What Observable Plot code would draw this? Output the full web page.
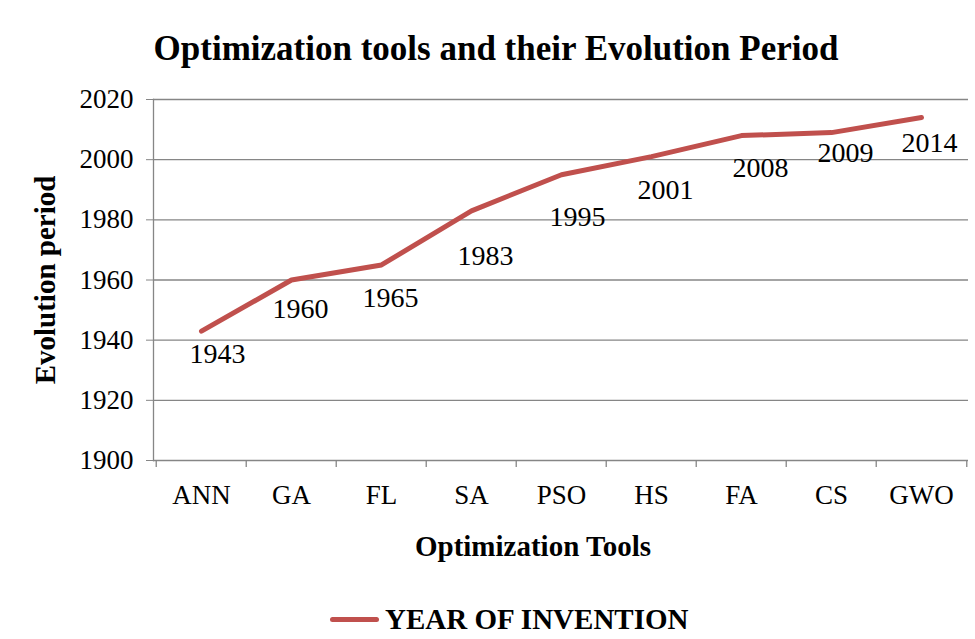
<!DOCTYPE html>
<html><head><meta charset="utf-8">
<script src="https://cdn.jsdelivr.net/npm/d3@7"></script>
<script src="https://cdn.jsdelivr.net/npm/@observablehq/plot@0.6"></script>
<style>
body{margin:0;background:#fff;font-family:"Liberation Serif",serif;}
#wrap{position:relative;width:975px;height:639px;overflow:hidden;}
#title{position:absolute;top:29px;left:0;width:992px;text-align:center;font-weight:bold;font-size:35px;line-height:40px;color:#000;}
#chart{position:absolute;top:80px;left:0;}
#legend{position:absolute;top:600px;left:330px;height:38px;display:flex;align-items:center;font-weight:bold;font-size:29px;}
#legend .sw{display:inline-block;width:49px;height:5px;border-radius:3px;background:#c0504d;margin-right:6px;}
</style></head>
<body>
<div id="wrap">
<div id="title">Optimization tools and their Evolution Period</div>
<div id="chart"></div>
<div id="legend"><span class="sw"></span><span>YEAR OF INVENTION</span></div>
</div>
<script>
const tools = ["ANN","GA","FL","SA","PSO","HS","FA","CS","GWO"];
const years = [1943,1960,1965,1983,1995,2001,2008,2009,2014];
const yTicks = [1900,1920,1940,1960,1980,2000,2020];
const seriesName = "YEAR OF INVENTION";

// label placement (style only): offsets of each data label from its point, in px
const labelDx = [16, 9, 9, 14, 16, 14, 19, 14, 8];
const labelDy = [23, 29, 33, 45, 42, 33, 32, 20, 25];

const data = tools.map((t,i)=>({tool:t, year:years[i]}));
const W = 975, ML = 153, MR = 7;
const halfBand = (W - ML - MR) / tools.length / 2;
const grid = "#868686";

const labelMarks = data.map((d, i) =>
  Plot.text([d], {x: "tool", y: "year", text: d => String(d.year), dx: labelDx[i], dy: labelDy[i], fontSize: 28, fill: "#000"})
);

const chart = Plot.plot({
  width: W,
  height: 500,
  marginTop: 19,
  marginBottom: 120,
  marginLeft: ML,
  marginRight: MR,
  style: {fontFamily: "'Liberation Serif', serif", background: "#fff", color: "#000", overflow: "visible"},
  x: {type: "band", domain: tools, padding: 0, axis: null},
  y: {domain: [1900, 2020], axis: null},
  marks: [
    Plot.ruleY(yTicks, {stroke: grid, strokeWidth: 1.3}),
    Plot.axisY({ticks: yTicks, tickSize: 7, tickPadding: 13, stroke: grid, fill: "#000", fontSize: 27, tickFormat: d => String(d), label: null}),
    Plot.frame({anchor: "left", stroke: grid, strokeWidth: 1.3}),
    Plot.ruleX(tools, {x: d => d, y1: 1900, y2: 1897.7, dx: -halfBand, stroke: grid, strokeWidth: 1.3}),
    Plot.ruleX([tools[tools.length-1]], {x: d => d, y1: 1900, y2: 1897.7, dx: halfBand, stroke: grid, strokeWidth: 1.3}),
    Plot.axisX({tickSize: 0, tickPadding: 24, fontSize: 27, fill: "#000", label: null}),
    Plot.line(data, {x: "tool", y: "year", stroke: "#c0504d", strokeWidth: 5, strokeLinecap: "round", strokeLinejoin: "round"}),
    ...labelMarks,
    Plot.text(["Optimization Tools"], {frameAnchor: "bottom", dy: 95, dx: -28, fontSize: 29, fontWeight: "bold", fill: "#000"}),
    Plot.text(["Evolution period"], {frameAnchor: "left", textAnchor: "middle", dx: -108, rotate: -90, fontSize: 29, fontWeight: "bold", fill: "#000"})
  ]
});
document.getElementById("chart").appendChild(chart);
</script>
</body></html>
